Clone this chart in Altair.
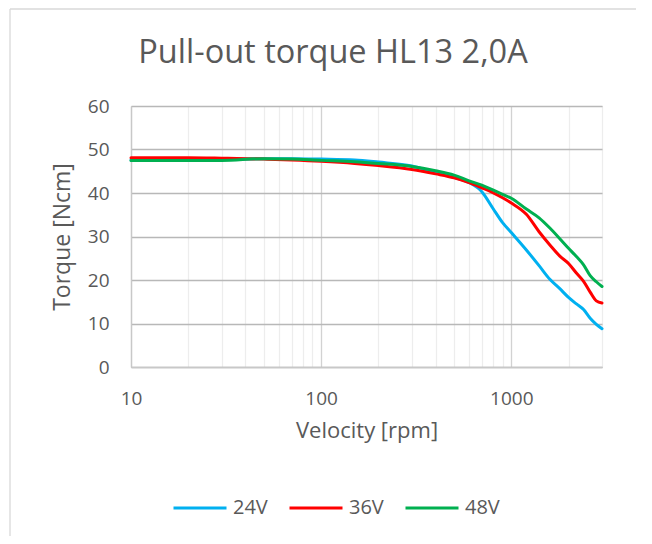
import altair as alt
import pandas as pd

# ---- data ----
velocity = [10, 20, 30, 50, 70, 100, 150, 200, 300, 400, 500, 600, 700, 800,
            900, 1000, 1200, 1400, 1600, 1800, 2000, 2200, 2400, 2600, 2800, 3000]
torque_24v = [47.6, 47.6, 47.7, 47.9, 47.9, 47.8, 47.6, 47.1, 46.2, 44.7, 43.6, 42.4, 40.3, 36.5,
              33.2, 30.9, 26.9, 23.3, 20.1, 18.0, 16.0, 14.5, 13.2, 11.2, 9.8, 8.8]
torque_36v = [48.1, 48.1, 48.0, 47.8, 47.6, 47.3, 46.8, 46.3, 45.4, 44.4, 43.5, 42.4, 41.2, 40.1,
              38.9, 37.7, 35.1, 31.1, 28.0, 25.5, 23.8, 21.6, 19.7, 17.2, 15.2, 14.7]
torque_48v = [47.5, 47.5, 47.5, 47.9, 47.8, 47.5, 47.2, 46.8, 46.1, 45.1, 44.1, 42.8, 41.8, 40.7,
              39.7, 38.8, 36.3, 34.3, 31.9, 29.5, 27.3, 25.4, 23.5, 21.0, 19.6, 18.5]
series = ["24V", "36V", "48V"]
colors = ["#00B0F0", "#FF0000", "#00B050"]
x_ticks = [10, 20, 30, 40, 50, 60, 70, 80, 90,
           100, 200, 300, 400, 500, 600, 700, 800, 900,
           1000, 2000, 3000]
y_ticks = [0, 10, 20, 30, 40, 50, 60]
title_text = "Pull-out torque HL13 2,0A"

rows = []
for name, vals in zip(series, [torque_24v, torque_36v, torque_48v]):
    for v, t in zip(velocity, vals):
        rows.append({"Velocity": v, "Torque": t, "Series": name})
df = pd.DataFrame(rows)

FONT = "Open Sans"
TXT = "#595959"

lines = alt.Chart(df).mark_line(strokeWidth=3, interpolate="monotone", strokeCap="round").encode(
    x=alt.X(
        "Velocity:Q",
        scale=alt.Scale(type="log", domain=[10, 3000], nice=False),
        axis=alt.Axis(
            title="Velocity [rpm]",
            values=x_ticks,
            labelExpr="(datum.value == 10 || datum.value == 100 || datum.value == 1000) ? '' + datum.value : ''",
            labelOverlap=False,
            labelFlush=False,
            ticks=False,
            labelPadding=22,
            titlePadding=12,
            labelFontSize=19,
            titleFontSize=22,
            labelFont=FONT,
            titleFont=FONT,
            labelColor=TXT,
            titleColor=TXT,
            titleFontWeight="normal",
            domainColor="#C8C8C8",
            domainWidth=1.3,
            gridColor={"condition": {"test": "datum.value == 10 || datum.value == 100 || datum.value == 1000",
                                     "value": "#D2D2D2"},
                       "value": "#EDEDED"},
            gridWidth=1.3,
        ),
    ),
    y=alt.Y(
        "Torque:Q",
        scale=alt.Scale(domain=[0, 60], nice=False),
        axis=alt.Axis(
            title="Torque [Ncm]",
            values=y_ticks,
            ticks=False,
            labelPadding=22,
            titlePadding=13,
            labelFontSize=19,
            titleFontSize=23,
            labelFont=FONT,
            titleFont=FONT,
            labelColor=TXT,
            titleColor=TXT,
            titleFontWeight="normal",
            domainColor="#C8C8C8",
            domainWidth=1.3,
            gridColor="#B8B8B8",
            gridWidth=1.3,
        ),
    ),
    color=alt.Color(
        "Series:N",
        scale=alt.Scale(domain=series, range=colors),
        legend=alt.Legend(
            title=None,
            orient="none",
            direction="horizontal",
            legendX=41,
            legendY=374,
            symbolType="stroke",
            symbolSize=2809,
            symbolStrokeWidth=3,
            labelFontSize=20,
            labelFont=FONT,
            labelColor=TXT,
            labelOffset=5,
            columnPadding=15,
        ),
    ),
)

title_df = pd.DataFrame({"t": [title_text]})
title = alt.Chart(title_df).mark_text(
    font=FONT, fontSize=32.5, color=TXT, align="center", baseline="alphabetic"
).encode(text="t:N", x=alt.value(202), y=alt.value(-43))

frame_df = pd.DataFrame({"k": [0]})
frame_left = alt.Chart(frame_df).mark_rule(color="#D9D9D9", strokeWidth=1.3).encode(
    x=alt.value(-121), y=alt.value(-97), y2=alt.value(430)
)
frame_top = alt.Chart(frame_df).mark_rule(color="#D9D9D9", strokeWidth=1.3).encode(
    x=alt.value(-121), x2=alt.value(505), y=alt.value(-97), y2=alt.value(-97)
)

chart = alt.layer(frame_left, frame_top, lines, title).properties(
    width=471,
    height=261,
    autosize=alt.AutoSizeParams(type="none"),
    padding={"left": 123, "top": 98, "right": 42, "bottom": 169},
).configure_view(strokeWidth=0).configure(background="transparent")

chart.save("out.html", embed_options={"renderer": "svg", "actions": False})
